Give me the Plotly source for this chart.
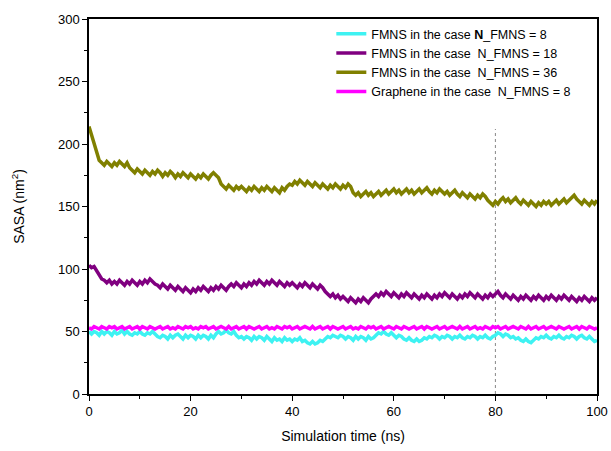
import plotly.graph_objects as go

time_ns = [i * 0.5 for i in range(201)]

sasa_n36 = [
    214, 207, 199, 192, 187, 185, 183, 186, 184, 182, 185, 183, 186, 184, 182, 185, 181, 179, 177, 180,
    178, 176, 179, 177, 175, 178, 176, 179, 177, 174, 177, 175, 178, 176, 173, 176, 174, 177, 175, 173,
    176, 174, 172, 175, 173, 176, 174, 172, 175, 177, 175, 173, 168, 166, 164, 167, 165, 163, 166, 164,
    166, 164, 162, 165, 163, 166, 164, 162, 165, 163, 166, 164, 162, 165, 163, 161, 165, 163, 166, 168,
    167, 170, 168, 171, 169, 167, 170, 168, 166, 169, 167, 165, 168, 166, 164, 167, 165, 168, 166, 164,
    167, 165, 168, 166, 161, 159, 161, 158, 160, 162, 159, 161, 158, 160, 162, 159, 161, 163, 160, 162,
    164, 161, 163, 160, 162, 164, 161, 163, 160, 162, 164, 161, 163, 165, 162, 160, 163, 161, 164, 162,
    160, 162, 159, 161, 163, 160, 158, 161, 159, 157, 160, 158, 156, 159, 157, 160, 158, 155, 153, 151,
    154, 152, 155, 157, 154, 156, 153, 155, 157, 154, 152, 155, 153, 151, 154, 152, 150, 153, 151, 154,
    152, 154, 151, 153, 155, 152, 154, 156, 153, 155, 157, 159, 156, 154, 152, 155, 153, 151, 154, 152,
    155,
]

sasa_n18 = [
    103, 101, 102, 99, 95, 92, 91, 89, 91, 88, 90, 88, 91, 89, 87, 90, 88, 91, 89, 87,
    90, 88, 91, 89, 92, 90, 88, 87, 85, 88, 86, 84, 87, 85, 83, 86, 84, 82, 85, 83,
    81, 84, 82, 85, 83, 86, 84, 82, 85, 83, 86, 84, 87, 85, 83, 86, 88, 86, 89, 87,
    85, 88, 86, 89, 87, 90, 88, 91, 89, 87, 90, 88, 91, 89, 87, 90, 88, 86, 89, 87,
    89, 87, 85, 88, 86, 89, 87, 85, 88, 86, 84, 87, 85, 82, 80, 78, 80, 77, 79, 76,
    78, 76, 74, 77, 75, 73, 76, 74, 77, 75, 73, 76, 78, 80, 78, 81, 79, 82, 80, 78,
    81, 79, 77, 80, 78, 81, 79, 77, 80, 78, 76, 79, 77, 80, 78, 76, 79, 77, 80, 78,
    81, 79, 77, 80, 78, 76, 79, 77, 80, 78, 81, 79, 77, 80, 78, 76, 79, 77, 80, 78,
    80, 82, 79, 77, 80, 78, 76, 79, 77, 75, 78, 76, 79, 77, 75, 78, 76, 79, 77, 75,
    78, 76, 79, 77, 75, 78, 76, 79, 77, 75, 78, 76, 74, 77, 75, 78, 76, 74, 77, 75,
    77,
]

sasa_graphene = [
    53, 52, 54, 53, 52, 54, 53, 52, 54, 53, 54, 52, 53, 54, 52, 53, 54, 52, 53, 54,
    52, 54, 53, 52, 54, 53, 52, 53, 54, 52, 53, 54, 52, 53, 52, 54, 53, 52, 54, 53,
    54, 52, 53, 52, 54, 53, 54, 52, 53, 54, 52, 53, 54, 53, 52, 54, 52, 53, 54, 52,
    53, 54, 52, 54, 53, 52, 53, 54, 52, 53, 54, 52, 53, 52, 54, 53, 52, 54, 53, 54,
    52, 53, 54, 52, 53, 54, 53, 52, 54, 52, 53, 54, 52, 53, 54, 52, 54, 53, 52, 53,
    54, 52, 53, 54, 52, 53, 52, 54, 53, 52, 54, 53, 54, 52, 53, 54, 52, 53, 54, 53,
    52, 54, 53, 52, 54, 53, 52, 53, 54, 52, 53, 54, 52, 54, 53, 52, 53, 54, 52, 53,
    54, 52, 53, 54, 53, 52, 54, 52, 53, 54, 52, 53, 54, 52, 53, 52, 54, 53, 52, 54,
    53, 54, 52, 53, 54, 52, 53, 54, 53, 52, 54, 53, 52, 54, 52, 53, 54, 52, 53, 54,
    52, 53, 54, 53, 52, 54, 53, 52, 53, 54, 52, 53, 54, 52, 54, 53, 52, 54, 53, 52,
    53,
]

sasa_n8 = [
    50, 48, 50, 49, 47, 50, 48, 50, 49, 47, 50, 48, 49, 51, 48, 50, 48, 47, 49, 48,
    50, 48, 47, 49, 48, 50, 48, 46, 45, 47, 46, 44, 47, 45, 47, 48, 46, 44, 47, 45,
    47, 46, 44, 47, 45, 47, 46, 44, 47, 45, 48, 50, 48, 49, 51, 49, 48, 50, 47, 45,
    46, 44, 46, 45, 43, 46, 44, 46, 45, 43, 46, 44, 42, 45, 43, 44, 42, 45, 43, 44,
    42, 44, 43, 45, 42, 43, 41, 40, 42, 40, 41, 43, 42, 44, 46, 45, 47, 46, 45, 47,
    46, 44, 46, 45, 43, 46, 44, 46, 45, 43, 46, 44, 45, 47, 49, 48, 50, 48, 47, 49,
    47, 45, 47, 46, 44, 43, 45, 43, 42, 44, 42, 43, 45, 44, 46, 45, 47, 46, 44, 46,
    45, 47, 46, 44, 46, 45, 47, 45, 44, 46, 45, 47, 46, 44, 46, 45, 47, 45, 44, 46,
    47, 49, 48, 46, 48, 47, 45, 46, 44, 45, 43, 42, 44, 42, 41, 43, 45, 44, 46, 45,
    47, 45, 44, 46, 45, 47, 45, 44, 46, 45, 47, 46, 44, 46, 47, 45, 44, 46, 44, 42,
    43,
]

series_names = [
    "FMNS in the case <b>N</b>_FMNS = 8",
    "FMNS in the case  N_FMNS = 18",
    "FMNS in the case  N_FMNS = 36",
    "Graphene in the case  N_FMNS = 8",
]
series_values = [sasa_n8, sasa_n18, sasa_n36, sasa_graphene]
series_colors = ["#3ef2f2", "#800080", "#808000", "#ff00ff"]

x_ticks = [0, 20, 40, 60, 80, 100]
y_ticks = [0, 50, 100, 150, 200, 250, 300]
marker_time = 80
marker_top = 212

FONT = "Liberation Sans, Arial, sans-serif"

fig = go.Figure()
# draw order: cyan under magenta
for idx in [2, 1, 0, 3]:
    fig.add_trace(go.Scatter(
        x=time_ns, y=series_values[idx], mode="lines", name=series_names[idx],
        line=dict(color=series_colors[idx], width=3.5), legendrank=idx + 1,
    ))

fig.add_shape(type="line", x0=marker_time, x1=marker_time, y0=0, y1=marker_top,
              xref="x", yref="y", line=dict(color="#888888", width=1, dash="dot"), layer="below")

axis_common = dict(
    showline=True, linecolor="black", linewidth=1.5, mirror=True,
    ticks="outside", ticklen=5, tickwidth=1, tickcolor="black",
    showgrid=False, zeroline=False, automargin=False,
    tickfont=dict(family=FONT, size=13, color="black"),
)

fig.update_xaxes(range=[0, 100], tickvals=x_ticks,
                 minor=dict(ticks="outside", ticklen=3, tickcolor="black", dtick=10, showgrid=False),
                 title=dict(text="Simulation time (ns)", font=dict(family=FONT, size=14, color="black"), standoff=13),
                 **axis_common)
fig.update_yaxes(range=[0, 300], tickvals=y_ticks,
                 minor=dict(ticks="outside", ticklen=3, tickcolor="black", dtick=25, showgrid=False),
                 title=dict(text="SASA (nm<sup>2</sup>)", font=dict(family=FONT, size=14, color="black"), standoff=30),
                 **axis_common)

fig.update_layout(
    width=611, height=451,
    margin=dict(l=89, r=14, t=19, b=57, autoexpand=False),
    paper_bgcolor="white", plot_bgcolor="white",
    showlegend=True,
    legend=dict(x=0.477, y=1.0, xanchor="left", yanchor="top",
                bgcolor="rgba(0,0,0,0)", borderwidth=0,
                font=dict(family=FONT, size=12.5, color="black"),
                tracegroupgap=0, itemwidth=30),
)

fig.write_html("out.html", config={"displayModeBar": False},
               post_script="document.body.style.margin='0';")
